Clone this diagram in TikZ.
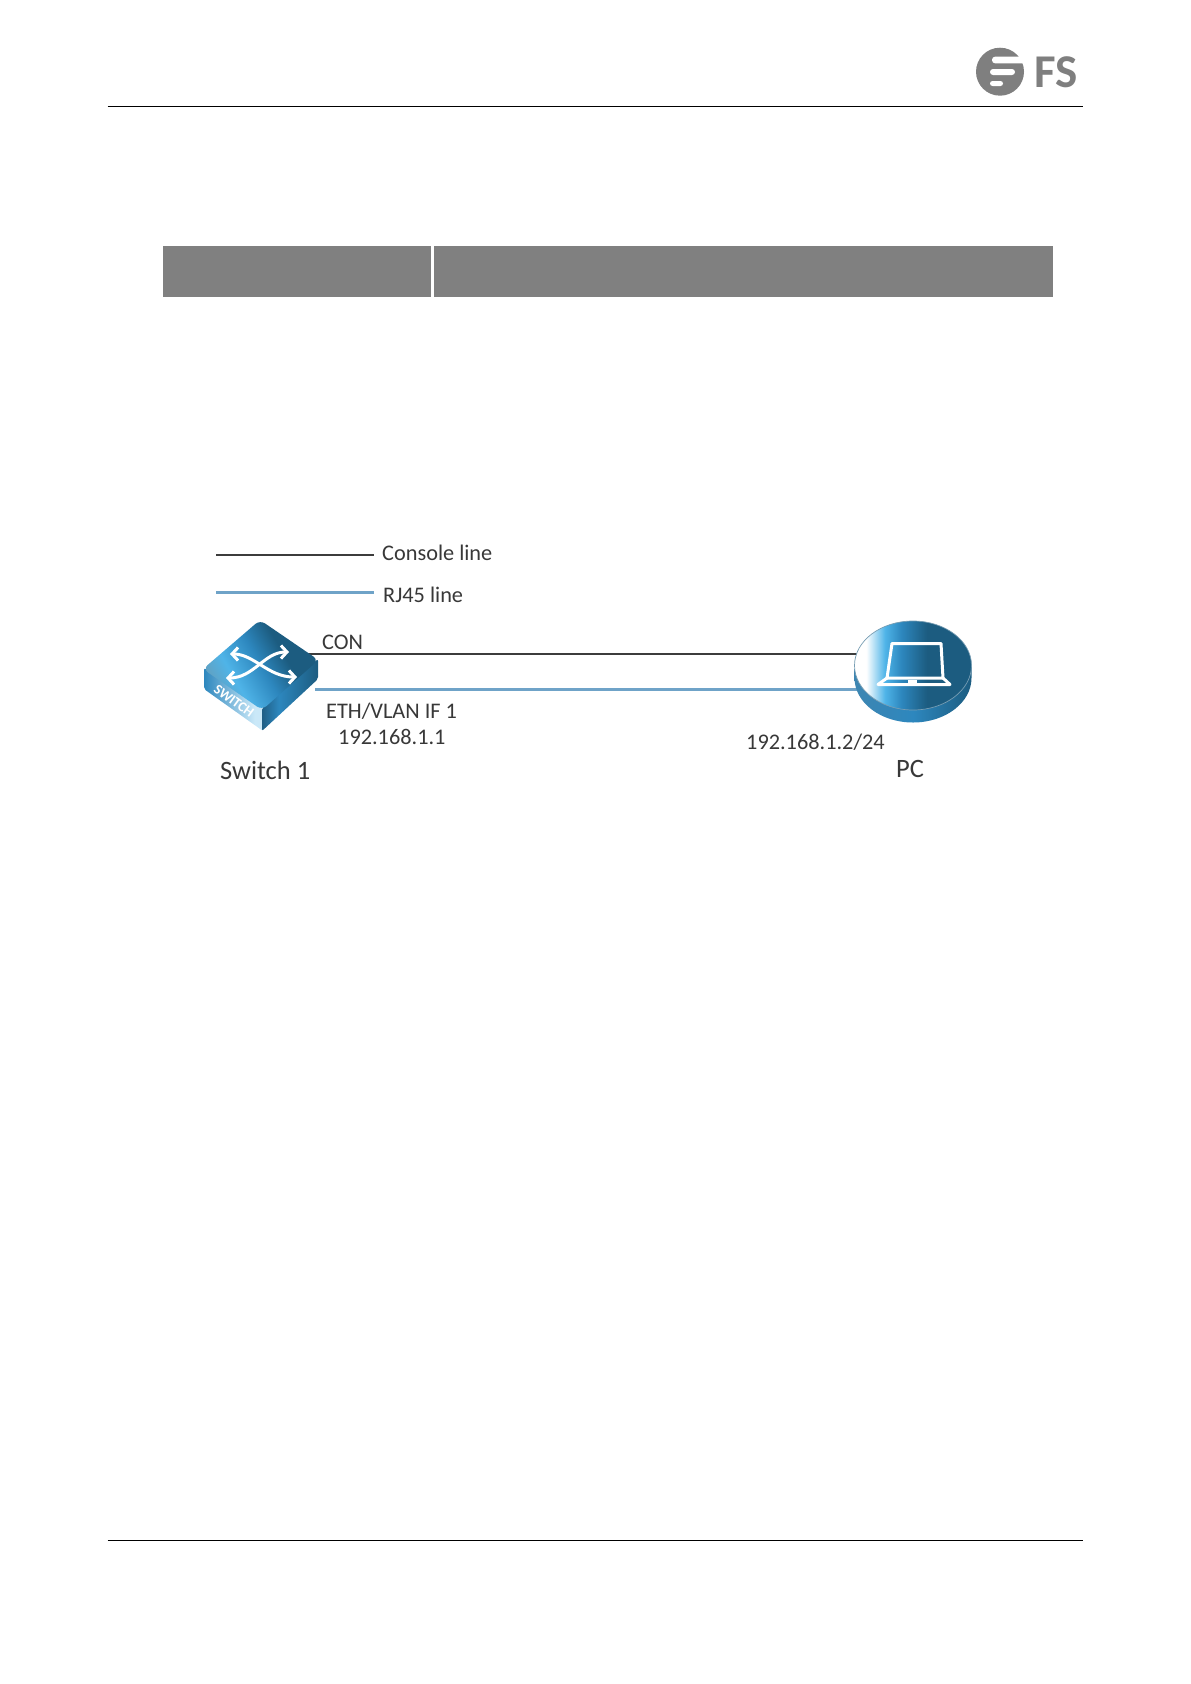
\documentclass[tikz,border=0pt]{standalone}
\usepackage{fontspec}
\setmainfont{Carlito}
\usepackage{tikz}
\usetikzlibrary{arrows.meta}

\definecolor{rjblue}{HTML}{6FA3C8}
\definecolor{linedark}{HTML}{3C3C3C}
\definecolor{logogray}{HTML}{7F7F7F}
\definecolor{icondark}{HTML}{1C5C80}
\definecolor{iconmid}{HTML}{2D87BE}
\definecolor{iconlight}{HTML}{4FB4E8}
\pgfdeclarehorizontalshading{pcface}{100bp}{color(0bp)=(white); color(30bp)=(white); color(38bp)=(iconlight); color(45bp)=(iconmid); color(56bp)=(icondark); color(100bp)=(icondark)}
\pgfdeclarehorizontalshading{swface}{100bp}{color(0bp)=(iconlight!60!gray); color(25bp)=(iconlight!60!gray); color(36bp)=(iconlight); color(50bp)=(iconmid); color(62bp)=(icondark); color(100bp)=(icondark)}
\pgfdeclarehorizontalshading{swfront}{100bp}{color(0bp)=(iconmid); color(25bp)=(iconmid); color(68bp)=(iconlight!30!white); color(100bp)=(iconlight!30!white)}
\pgfdeclarehorizontalshading{swright}{100bp}{color(0bp)=(iconmid!70!black); color(25bp)=(iconmid!70!black); color(40bp)=(iconmid); color(75bp)=(icondark); color(100bp)=(icondark)}
\tikzset{
  rule/.style={draw=black,line width=0.9pt},
  consoleline/.style={draw=linedark,line width=2.8pt},
  rjline/.style={draw=rjblue,line width=3pt},
  lbl/.style={inner sep=0pt,text=black!78,font=\fontsize{22.3}{24}\selectfont},
  biglbl/.style={lbl,font=\fontsize{26.5}{28}\selectfont},
  iconline/.style={draw=white,line width=3pt,line join=round},
  swarrow/.style={draw=white,line width=3pt,{Straight Barb[length=6pt,width=13pt]}-{Straight Barb[length=6pt,width=13pt]}}
}

\begin{document}
\begin{tikzpicture}[x=1pt,y=-1pt]
\useasboundingbox (0,0) rectangle (1191,1684);

% Header and footer
\draw[rule] (107.5,106.5) -- (1083,106.5);
\draw[rule] (107.5,1540.5) -- (1083,1540.5);

% Logo
\fill[logogray] (1000,71.7) circle (24);
\fill[white,rounded corners=3pt] (992,56.7) rectangle (1030,63.3);
\fill[white] (1016,46) -- (1030,46) -- (1030,63) -- (1024,63) -- cycle;
\fill[white,rounded corners=3pt] (990,69) rectangle (1015,75);
\fill[white,rounded corners=2.5pt] (990,81) rectangle (1003,86);
\node[inner sep=0pt,text=logogray,font=\fontsize{47}{47}\selectfont\bfseries] (logotext) at (1056,72) {FS};

% Table head
\fill[black!50] (163,246) rectangle (431,296.8);
\fill[black!50] (434,246) rectangle (1053,296.8);

% Legend
\coordinate (consolefrom) at (216,555);
\coordinate (consoleto) at (374,555);
\coordinate (rjfrom) at (216,592);
\coordinate (rjto) at (374,592);
\draw[consoleline] (consolefrom) -- (consoleto);
\draw[rjline] (rjfrom) -- (rjto);
\node[lbl,anchor=west] (consolelabel) at (382,553) {Console line};
\node[lbl,anchor=west] (rjlabel) at (383,595) {RJ45 line};

% Links
\coordinate (swcon) at (305,654);
\coordinate (pccon) at (860,654);
\coordinate (swrj) at (315,689);
\coordinate (pcrj) at (860,689);
\draw[consoleline] (swcon) -- (pccon);
\draw[rjline] (swrj) -- (pcrj);

% Switch
\shade[shading=swfront,rounded corners=2pt]
  (204,668) -- (263,708) -- (263,731) -- (204,689) -- cycle;
\shade[shading=swright,rounded corners=2pt]
  (262,708) -- (318,659) -- (318,679) -- (262,731) -- cycle;
\shade[shading=swface,shading angle=30,rounded corners=6pt]
  (260,620) -- (318.5,660) -- (262,710) -- (203,669) -- cycle;
\draw[swarrow] (230,654) .. controls (254,654) and (268,677) .. (297,677);
\draw[swarrow] (226,678) .. controls (254,678) and (264,652) .. (289,652);
\node[inner sep=0pt,text=white,rotate=-36,font=\fontsize{14}{14}\selectfont\bfseries] (switchtag) at (234,701) {SWITCH};

% PC
\shade[left color=iconmid!80!gray,right color=icondark,middle color=iconmid]
  (854.5,665) -- (854.5,678) .. controls (854.5,702.6) and (880.7,722.5) .. (913,722.5)
  .. controls (945.3,722.5) and (971.5,702.6) .. (971.5,678) -- (971.5,665) -- cycle;
\shade[shading=pcface,draw=icondark!60,line width=0.7pt] (913,665.5) ellipse (58.5 and 44.5);
\draw[iconline] (892,643.5) -- (941,643.5) -- (943,678) -- (887,678) -- cycle;
\draw[iconline] (887,678) -- (878,684.5) -- (950,684.5) -- (943,678);
\fill[white] (908,679.5) rectangle (917,683);

% Labels
\node[lbl,anchor=west] (conlabel) at (322,642) {CON};
\node[lbl,anchor=west] (vlanlabel) at (326,711) {ETH/VLAN IF 1};
\node[lbl,anchor=west] (swiplabel) at (338,737) {192.168.1.1};
\node[biglbl,anchor=west] (switchlabel) at (220,770) {Switch 1};
\node[lbl,anchor=west] (pciplabel) at (746,742) {192.168.1.2/24};
\node[biglbl,anchor=west] (pclabel) at (896,769) {PC};
\end{tikzpicture}
\end{document}
